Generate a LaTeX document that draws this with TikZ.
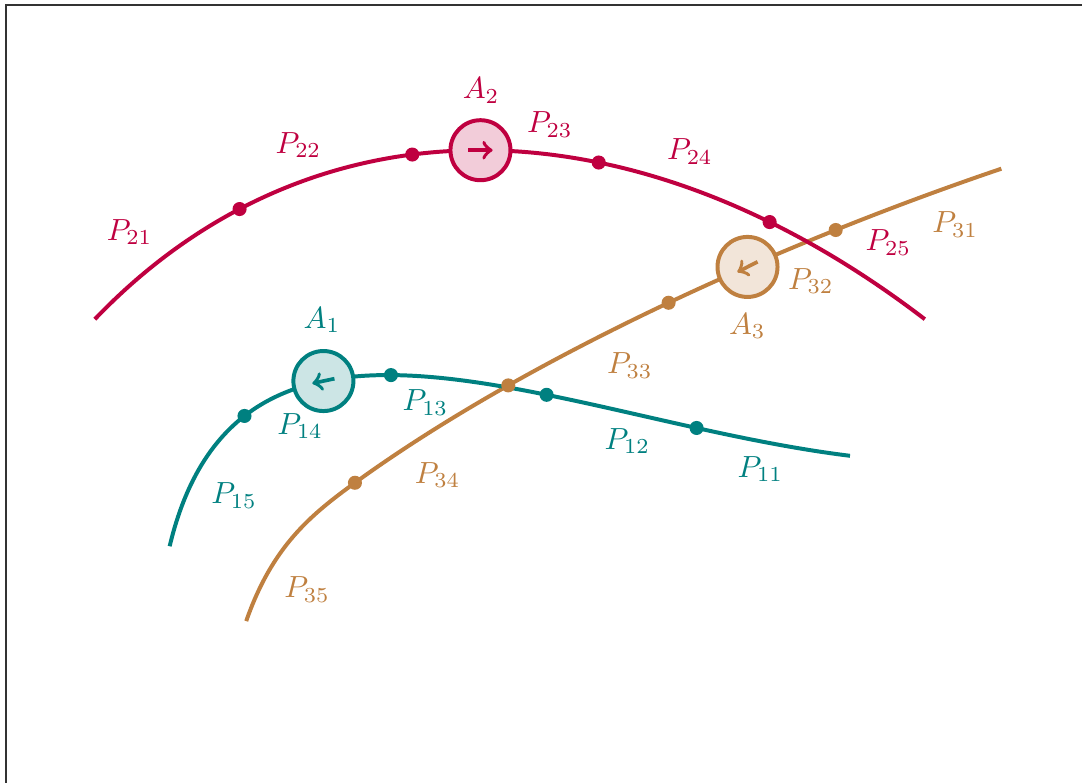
\documentclass[tikz,border=0pt]{standalone}
\usepackage{amsmath}
\usepackage{tikz}

\tikzset{
  track/.style={line width=1.3pt},
  stop/.style={circle, fill, inner sep=0pt, minimum size=4.6pt},
  agent/.style={circle, draw, line width=1.3pt, minimum size=0.69cm, inner sep=0pt},
  dir/.style={->, line width=1.2pt},
}

\begin{document}
\begin{tikzpicture}
        \useasboundingbox (0,0) rectangle (12.437,8.989);
        \draw[line width=0.5pt, black!80] (0.07,-1) rectangle (13,8.93);
        % Lines
        \draw[track, brown] (2.83,1.85) .. controls (3.13,2.71) and (3.57,3.07) .. (4.08,3.44) coordinate (b4)
            .. controls (5.94,4.79) and (8.74,6.11) .. (11.51,7.05)
            coordinate[pos=0.28] (b3) coordinate[pos=0.53] (b2)
            coordinate[pos=0.645] (ba) coordinate[pos=0.77] (b1);
        \draw[track, teal] (1.95,2.71) .. controls (2.76,6.11) and (6.44,4.16) .. (9.77,3.75)
            coordinate[pos=0.21] (t4) coordinate[pos=0.35] (ta) coordinate[pos=0.45] (t3)
            coordinate[pos=0.65] (t2) coordinate[pos=0.825] (t1);
        \draw[track, purple] (1.09,5.32) .. controls (3.57,7.91) and (7.25,7.91) .. (10.63,5.32)
            coordinate[pos=0.205] (r1) coordinate[pos=0.42] (r2) coordinate[pos=0.5] (ra)
            coordinate[pos=0.635] (r3) coordinate[pos=0.826] (r4);
        % Stops
        \foreach \p in {r1,r2,r3,r4} \node[stop, purple] at (\p) {};
        \foreach \p in {t1,t2,t3,t4} \node[stop, teal] at (\p) {};
        \foreach \p in {b1,b2,b3,b4} \node[stop, brown] at (\p) {};
        % Agents
        \node[agent, purple, fill=purple!20] (A2) at (ra) {};
        \node[agent, teal, fill=teal!20] (A1) at (ta) {};
        \node[agent, brown, fill=brown!20] (A3) at (ba) {};
        \draw[dir, purple] (A2) ++(180:0.14) -- ++(0:0.28);
        \draw[dir, teal] (A1) ++(12:0.13) -- ++(192:0.26);
        \draw[dir, brown] (A3) ++(27:0.13) -- ++(207:0.26);
        % Labels
        \node[purple] (lA2) at (5.53,7.95) {$A_2$};
        \node[purple] (l21) at (1.49,6.32) {$P_{21}$};
        \node[purple] (l22) at (3.43,7.32) {$P_{22}$};
        \node[purple] (l23) at (6.32,7.56) {$P_{23}$};
        \node[purple] (l24) at (7.93,7.25) {$P_{24}$};
        \node[purple] (l25) at (10.21,6.20) {$P_{25}$};
        \node[teal] (lA1) at (3.70,5.31) {$A_1$};
        \node[teal] (l11) at (8.74,3.60) {$P_{11}$};
        \node[teal] (l12) at (7.21,3.92) {$P_{12}$};
        \node[teal] (l13) at (4.89,4.36) {$P_{13}$};
        \node[teal] (l14) at (3.45,4.09) {$P_{14}$};
        \node[teal] (l15) at (2.69,3.29) {$P_{15}$};
        \node[brown] (lA3) at (8.59,5.24) {$A_3$};
        \node[brown] (l31) at (10.98,6.41) {$P_{31}$};
        \node[brown] (l32) at (9.32,5.76) {$P_{32}$};
        \node[brown] (l33) at (7.24,4.79) {$P_{33}$};
        \node[brown] (l34) at (5.03,3.53) {$P_{34}$};
        \node[brown] (l35) at (3.53,2.21) {$P_{35}$};
    \end{tikzpicture}
\end{document}
